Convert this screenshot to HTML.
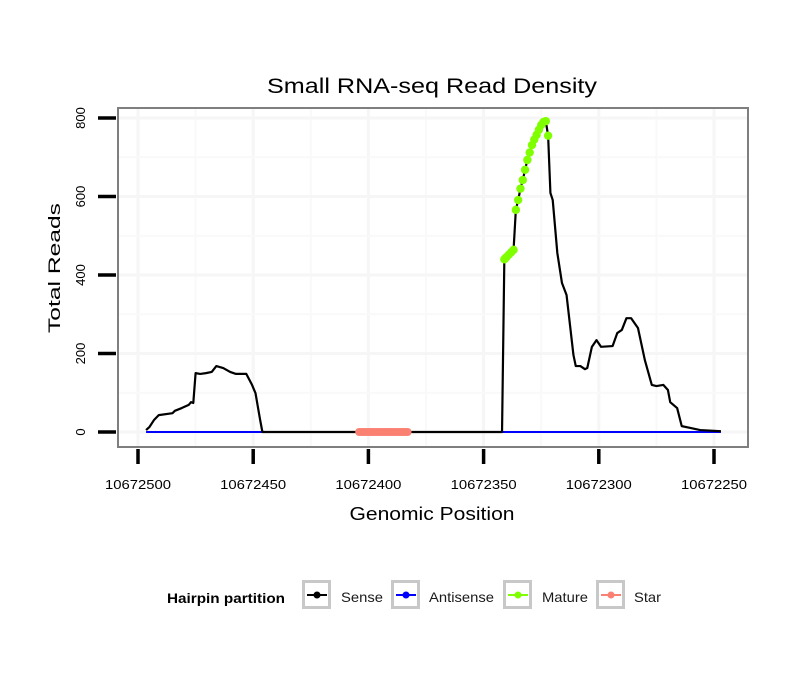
<!DOCTYPE html>
<html><head><meta charset="utf-8"><style>
body{margin:0;background:#fff}
svg{display:block;font-family:"Liberation Sans",sans-serif}
</style></head><body>
<svg id="c" width="810" height="690">
<text x="432" y="93" font-size="21" text-anchor="middle" textLength="330" lengthAdjust="spacingAndGlyphs">Small RNA-seq Read Density</text>
<g id="grid"></g>
<g id="series"></g>
<rect x="118" y="108" width="630" height="339" fill="none" stroke="#7f7f7f" stroke-width="2"/>
<g id="axes"></g>
<text x="432" y="520" font-size="18" text-anchor="middle" textLength="165" lengthAdjust="spacingAndGlyphs">Genomic Position</text>
<text transform="translate(60,268) rotate(-90)" font-size="17" text-anchor="middle" textLength="130" lengthAdjust="spacingAndGlyphs">Total Reads</text>
<g>
<text x="167" y="603" font-size="14" font-weight="bold" textLength="118" lengthAdjust="spacingAndGlyphs">Hairpin partition</text>
<g id="legend"></g>
</g>
</svg>
<script>
const xTicks=[10672500,10672450,10672400,10672350,10672300,10672250];
const yTicks=[0,200,400,600,800];
const base=10672500;
const senseOffsets=[3.5,5,7,9,15,16,19,22,23,24,25,27,29.5,32,34,37,40,42.5,47,49.5,51,53,54,96,117,158,159,160,161,162,163,164,165,166,167,168,169,170,171,172,173,174,175,176,177,178,179,180,182,184,186,189,190,192,194,195,197,199,201,206,208,210,212,214,217,220,223,225,228,230,231,234,236,240,244,253];
const senseValues=[5,13,31,43,48,54,61,69,76,74,150,148,150,153,168,163,153,148,148,120,99,31,0,0,0,0,440,446,452,458,464,566,591,620,642,668,693,712,731,745,757,770,782,790,792,755,609,591,456,380,349,196,168,168,160,163,217,234,217,219,252,260,290,290,265,183,120,117,120,107,76,61,15,10,5,2];
const antiOffsets=[3.5,253];
const antiValues=[0,0];
const matureOffsets=[159,159.5,160,161,162,163,164,165,166,167,168,169,170,171,172,173,174,175,176,177,178];
const matureValues=[440,443,446,452,458,464,566,591,620,642,668,693,712,731,745,757,770,782,790,792,755];
const starOffsets=[96,97,98,99,100,101,102,103,104,105,106,107,108,109,110,111,112,113,114,115,116,117];
const starValues=[0,0,0,0,0,0,0,0,0,0,0,0,0,0,0,0,0,0,0,0,0,0];
const legendLabels=["Sense","Antisense","Mature","Star"];
const legendColors=["#000000","#0000ff","#7fff00","#fa8072"];

const NS="http://www.w3.org/2000/svg";
const X=p=>138+(base-p)*2.304;
const XO=o=>X(base-o);
const Y=v=>432-v*0.3925;
function mk(tag,attrs,parent){const e=document.createElementNS(NS,tag);for(const k in attrs)e.setAttribute(k,attrs[k]);parent.appendChild(e);return e;}
const grid=document.getElementById('grid'),ser=document.getElementById('series'),ax=document.getElementById('axes'),lg=document.getElementById('legend');
for(let i=0;i<xTicks.length;i++){
 const gx=X(xTicks[i]);
 if(gx>118&&gx<748){const l=mk('line',{x1:gx,x2:gx,y1:109,y2:446,stroke:'#f6f6f6','stroke-width':3},grid);
 }
 if(i<xTicks.length-1){const mx=X((xTicks[i]+xTicks[i+1])/2);const l=mk('line',{x1:mx,x2:mx,y1:109,y2:446,stroke:'#f9f9f9','stroke-width':2},grid);
 }
}
for(let i=0;i<yTicks.length;i++){
 const gy=Y(yTicks[i]);
 const l=mk('line',{x1:119,x2:747,y1:gy,y2:gy,stroke:'#f6f6f6','stroke-width':3},grid);
 
 if(i<yTicks.length-1){const my=Y((yTicks[i]+yTicks[i+1])/2);const m=mk('line',{x1:119,x2:747,y1:my,y2:my,stroke:'#f9f9f9','stroke-width':2},grid);
 }
}
const anti=mk('polyline',{points:antiOffsets.map((o,i)=>XO(o)+','+Y(antiValues[i])).join(' '),fill:'none',stroke:'#0000ff','stroke-width':2},ser);

const sense=mk('polyline',{points:senseOffsets.map((o,i)=>XO(o)+','+Y(senseValues[i])).join(' '),fill:'none',stroke:'#000','stroke-width':2.2,'stroke-linejoin':'round'},ser);

starOffsets.forEach((o,i)=>{const c=mk('circle',{cx:XO(o),cy:Y(starValues[i]),r:4,fill:'#fa8072'},ser);
 });
matureOffsets.forEach((o,i)=>{const c=mk('circle',{cx:XO(o),cy:Y(matureValues[i]),r:4.2,fill:'#7fff00'},ser);
 });
xTicks.forEach(t=>{const gx=X(t);
 const l=mk('line',{x1:gx,x2:gx,y1:449,y2:464,stroke:'#000','stroke-width':3.5},ax);
 
 const tx=mk('text',{x:gx,y:489,'font-size':13,'text-anchor':'middle',textLength:66,lengthAdjust:'spacingAndGlyphs'},ax);tx.textContent=t;
 });
yTicks.forEach(t=>{const gy=Y(t);
 const l=mk('line',{x1:98,x2:116,y1:gy,y2:gy,stroke:'#000','stroke-width':3.5},ax);
 
 const tx=mk('text',{transform:`translate(85,${gy}) rotate(-90)`,'font-size':13,'text-anchor':'middle'},ax);tx.textContent=t;
 });
const boxX=[302,391,503,596],labX=[341,429,542,634],labW=[42,65,46,27];
legendLabels.forEach((lab,i)=>{
 const g=mk('g',{},lg);
 
 mk('rect',{x:boxX[i]+1.5,y:581.5,width:26,height:26,fill:'#fff',stroke:'#c8c8c8','stroke-width':3},g);
 mk('line',{x1:boxX[i]+5,x2:boxX[i]+25,y1:595,y2:595,stroke:legendColors[i],'stroke-width':2},g);
 mk('circle',{cx:boxX[i]+15,cy:595,r:3.5,fill:legendColors[i]},g);
 const t=mk('text',{x:labX[i],y:602,'font-size':14,fill:'#1a1a1a',textLength:labW[i],lengthAdjust:'spacingAndGlyphs'},g);t.textContent=lab;
});
</script>
</body></html>
